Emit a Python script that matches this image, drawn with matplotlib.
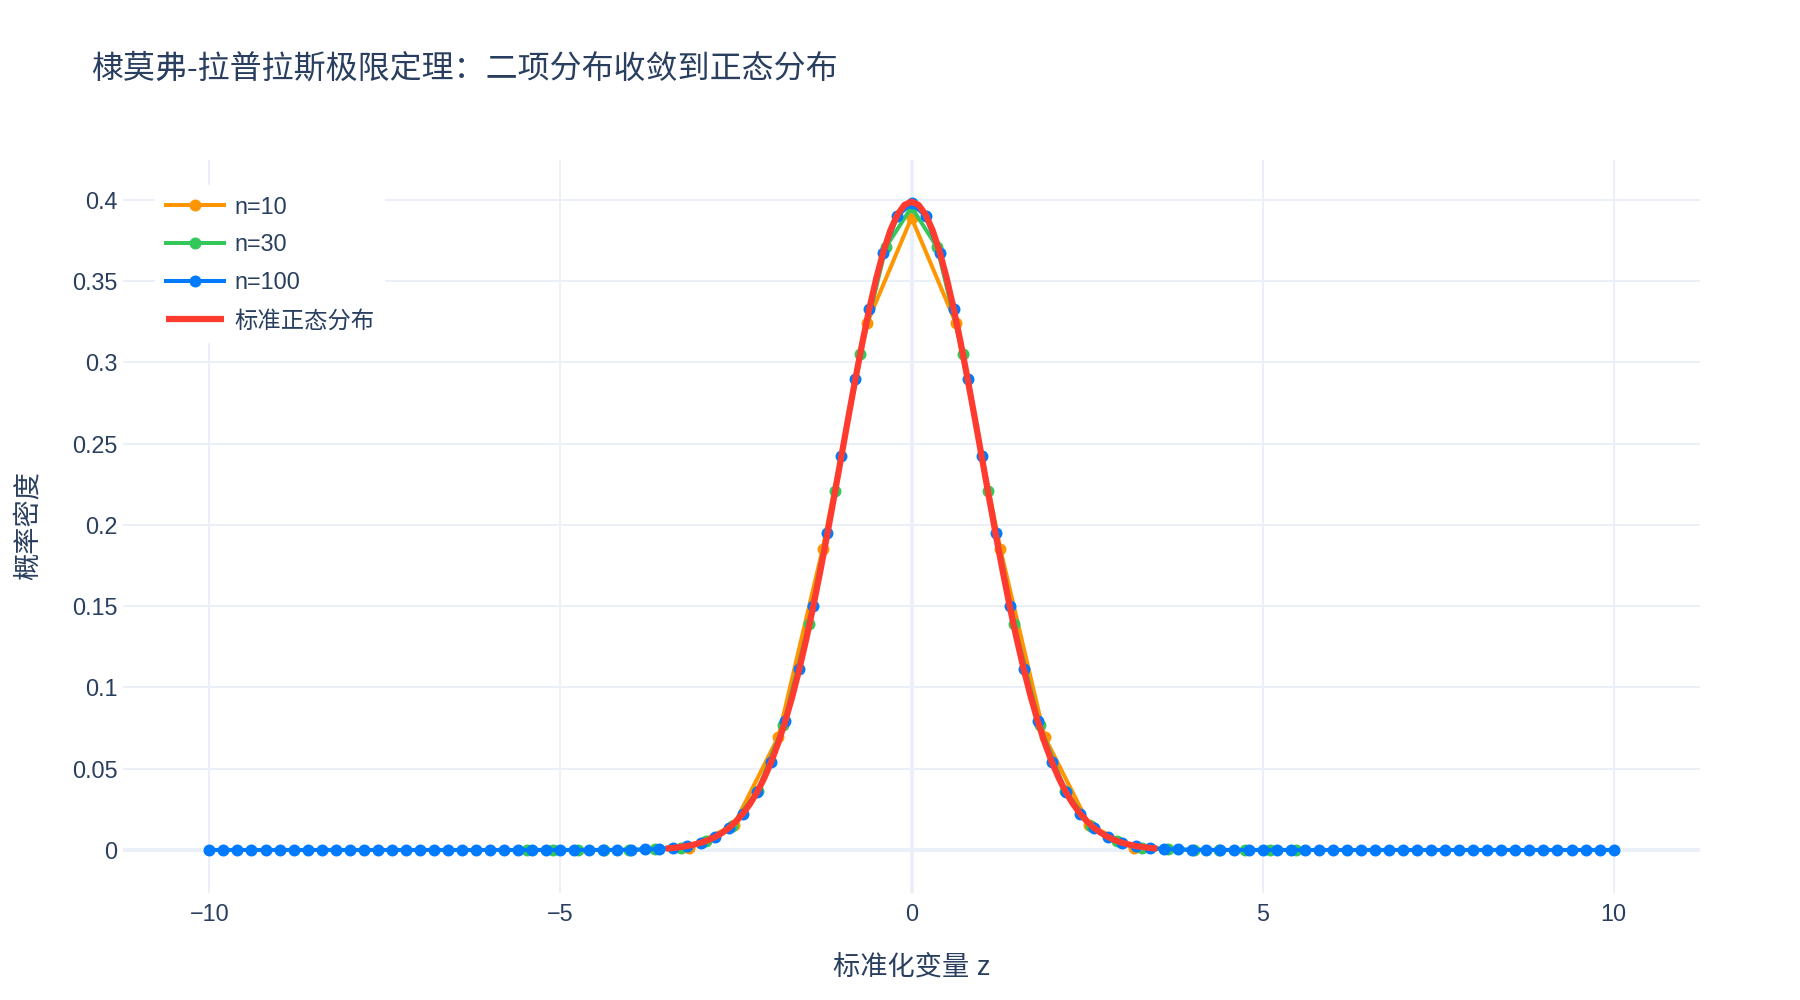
import matplotlib
matplotlib.use("Agg")
import matplotlib.pyplot as plt
from matplotlib.font_manager import FontProperties

plt.rcParams['font.family'] = ['Liberation Sans', 'Noto Sans CJK SC', 'DejaVu Sans']
plt.rcParams['axes.unicode_minus'] = True

TITLE = "棣莫弗-拉普拉斯极限定理：二项分布收敛到正态分布"
X_LABEL = "标准化变量 z"
Y_LABEL = "概率密度"
SERIES_NAMES = ["n=10", "n=30", "n=100", "标准正态分布"]

# n = 10 binomial (standardized)
n10_x = [-3.162, -2.530, -1.897, -1.265, -0.632, 0.0, 0.632, 1.265, 1.897, 2.530, 3.162]
n10_y = [0.0015, 0.0154, 0.0695, 0.1853, 0.3242, 0.3891, 0.3242, 0.1853, 0.0695, 0.0154, 0.0015]

# n = 30 binomial (standardized)
n30_x = [-5.477, -5.112, -4.747, -4.382, -4.017, -3.651, -3.286, -2.921, -2.556, -2.191,
         -1.826, -1.461, -1.095, -0.730, -0.365, 0.0, 0.365, 0.730, 1.095, 1.461,
         1.826, 2.191, 2.556, 2.921, 3.286, 3.651, 4.017, 4.382, 4.747, 5.112, 5.477]
n30_y = [0.0, 0.0, 0.0, 0.0, 0.0001, 0.0004, 0.0015, 0.0052, 0.0149, 0.0365,
         0.0766, 0.1393, 0.2206, 0.3055, 0.3709, 0.3956, 0.3709, 0.3055, 0.2206, 0.1393,
         0.0766, 0.0365, 0.0149, 0.0052, 0.0015, 0.0004, 0.0001, 0.0, 0.0, 0.0, 0.0]

# n = 100 binomial (standardized)
n100_x = [-10.0, -9.8, -9.6, -9.4, -9.2, -9.0, -8.8, -8.6, -8.4, -8.2,
          -8.0, -7.8, -7.6, -7.4, -7.2, -7.0, -6.8, -6.6, -6.4, -6.2,
          -6.0, -5.8, -5.6, -5.4, -5.2, -5.0, -4.8, -4.6, -4.4, -4.2,
          -4.0, -3.8, -3.6, -3.4, -3.2, -3.0, -2.8, -2.6, -2.4, -2.2,
          -2.0, -1.8, -1.6, -1.4, -1.2, -1.0, -0.8, -0.6, -0.4, -0.2,
          0.0,
          0.2, 0.4, 0.6, 0.8, 1.0, 1.2, 1.4, 1.6, 1.8, 2.0,
          2.2, 2.4, 2.6, 2.8, 3.0, 3.2, 3.4, 3.6, 3.8, 4.0,
          4.2, 4.4, 4.6, 4.8, 5.0, 5.2, 5.4, 5.6, 5.8, 6.0,
          6.2, 6.4, 6.6, 6.8, 7.0, 7.2, 7.4, 7.6, 7.8, 8.0,
          8.2, 8.4, 8.6, 8.8, 9.0, 9.2, 9.4, 9.6, 9.8, 10.0]
n100_y = [0.0, 0.0, 0.0, 0.0, 0.0, 0.0, 0.0, 0.0, 0.0, 0.0,
          0.0, 0.0, 0.0, 0.0, 0.0, 0.0, 0.0, 0.0, 0.0, 0.0,
          0.0, 0.0, 0.0, 0.0, 0.0, 0.0, 0.0, 0.0, 0.0, 0.0,
          0.0001, 0.0003, 0.0006, 0.0012, 0.0023, 0.0043, 0.0078, 0.0135, 0.0224, 0.0356,
          0.0542, 0.0793, 0.1115, 0.1503, 0.1948, 0.2424, 0.2898, 0.3330, 0.3676, 0.3901,
          0.3979,
          0.3901, 0.3676, 0.3330, 0.2898, 0.2424, 0.1948, 0.1503, 0.1115, 0.0793, 0.0542,
          0.0356, 0.0224, 0.0135, 0.0078, 0.0043, 0.0023, 0.0012, 0.0006, 0.0003, 0.0001,
          0.0, 0.0, 0.0, 0.0, 0.0, 0.0, 0.0, 0.0, 0.0, 0.0,
          0.0, 0.0, 0.0, 0.0, 0.0, 0.0, 0.0, 0.0, 0.0, 0.0,
          0.0, 0.0, 0.0, 0.0, 0.0, 0.0, 0.0, 0.0, 0.0, 0.0]

# standard normal density
norm_x = [-3.5, -3.4, -3.3, -3.2, -3.1, -3.0, -2.9, -2.8, -2.7, -2.6,
          -2.5, -2.4, -2.3, -2.2, -2.1, -2.0, -1.9, -1.8, -1.7, -1.6,
          -1.5, -1.4, -1.3, -1.2, -1.1, -1.0, -0.9, -0.8, -0.7, -0.6,
          -0.5, -0.4, -0.3, -0.2, -0.1, 0.0, 0.1, 0.2, 0.3, 0.4,
          0.5, 0.6, 0.7, 0.8, 0.9, 1.0, 1.1, 1.2, 1.3, 1.4,
          1.5, 1.6, 1.7, 1.8, 1.9, 2.0, 2.1, 2.2, 2.3, 2.4,
          2.5, 2.6, 2.7, 2.8, 2.9, 3.0, 3.1, 3.2, 3.3, 3.4, 3.5]
norm_y = [0.00087, 0.00123, 0.00172, 0.00238, 0.00327, 0.00443, 0.00595, 0.00792, 0.01042, 0.01358,
          0.01753, 0.02239, 0.02833, 0.03547, 0.04398, 0.05399, 0.06562, 0.07895, 0.09405, 0.11092,
          0.12952, 0.14973, 0.17137, 0.19419, 0.21785, 0.24197, 0.26609, 0.28969, 0.31225, 0.33322,
          0.35207, 0.36827, 0.38139, 0.39104, 0.39695, 0.39894, 0.39695, 0.39104, 0.38139, 0.36827,
          0.35207, 0.33322, 0.31225, 0.28969, 0.26609, 0.24197, 0.21785, 0.19419, 0.17137, 0.14973,
          0.12952, 0.11092, 0.09405, 0.07895, 0.06562, 0.05399, 0.04398, 0.03547, 0.02833, 0.02239,
          0.01753, 0.01358, 0.01042, 0.00792, 0.00595, 0.00443, 0.00327, 0.00238, 0.00172, 0.00123, 0.00087]

x_ticks = [-10, -5, 0, 5, 10]
x_tick_labels = ["\u221210", "\u22125", "0", "5", "10"]
y_ticks = [0, 0.05, 0.1, 0.15, 0.2, 0.25, 0.3, 0.35, 0.4]
y_tick_labels = ["0", "0.05", "0.1", "0.15", "0.2", "0.25", "0.3", "0.35", "0.4"]

COLORS = ["#FF9500", "#34C759", "#007AFF", "#FF3B30"]
TEXT = "#2a3f5f"
GRID = "#EBF0F8"

fig = plt.figure(figsize=(18, 10), dpi=100)
ax = fig.add_axes([123 / 1800, 1 - 893 / 1000, (1700 - 123) / 1800, (893 - 160) / 1000])

ax.set_xlim(-11.23, 11.23)
ax.set_ylim(-0.0265, 0.4246)

ax.set_xticks(x_ticks)
ax.set_xticklabels(x_tick_labels)
ax.set_yticks(y_ticks)
ax.set_yticklabels(y_tick_labels)
ax.tick_params(axis='both', length=0, labelsize=16.8, labelcolor=TEXT)
ax.tick_params(axis='x', pad=7)
ax.tick_params(axis='y', pad=4)
for s in ax.spines.values():
    s.set_visible(False)
ax.grid(True, color=GRID, linewidth=1.44, zorder=0)
ax.set_axisbelow(True)
ax.axhline(0, color=GRID, linewidth=2.9, zorder=0.5)
ax.axvline(0, color=GRID, linewidth=2.9, zorder=0.5)

lw = 2.88
ms = 8.6
ax.plot(n10_x, n10_y, color=COLORS[0], linewidth=lw, marker='o', markersize=ms,
        markeredgewidth=0, label=SERIES_NAMES[0], zorder=3)
ax.plot(n30_x, n30_y, color=COLORS[1], linewidth=lw, marker='o', markersize=ms,
        markeredgewidth=0, label=SERIES_NAMES[1], zorder=4)
ax.plot(n100_x, n100_y, color=COLORS[2], linewidth=lw, marker='o', markersize=ms,
        markeredgewidth=0, label=SERIES_NAMES[2], zorder=5)
ax.plot(norm_x, norm_y, color=COLORS[3], linewidth=4.5, label=SERIES_NAMES[3], zorder=6,
        solid_capstyle='butt')

leg = ax.legend(loc='upper left', bbox_to_anchor=((155 - 123) / 1577, (893 - 185) / 733),
                borderaxespad=0, borderpad=0.45, handlelength=2.5, handletextpad=0.45,
                labelspacing=0.64, numpoints=1, frameon=True, fancybox=False,
                prop=FontProperties(family=['Liberation Sans', 'Noto Sans CJK SC'], size=16.8))
leg.get_frame().set_facecolor('white')
leg.get_frame().set_edgecolor('none')
leg.get_frame().set_alpha(1.0)
for t in leg.get_texts():
    t.set_color(TEXT)

fig.text(91 / 1800, 1 - 69 / 1000, TITLE, fontsize=23.0, color=TEXT, ha='left', va='center')
fig.text((123 + 1700) / 2 / 1800, 1 - 968 / 1000, X_LABEL, fontsize=19.6, color=TEXT,
         ha='center', va='center')
fig.text(30 / 1800, 1 - 526 / 1000, Y_LABEL, fontsize=19.6, color=TEXT, rotation=90,
         ha='center', va='center')

fig.savefig("out.png", dpi=100, facecolor='white')
